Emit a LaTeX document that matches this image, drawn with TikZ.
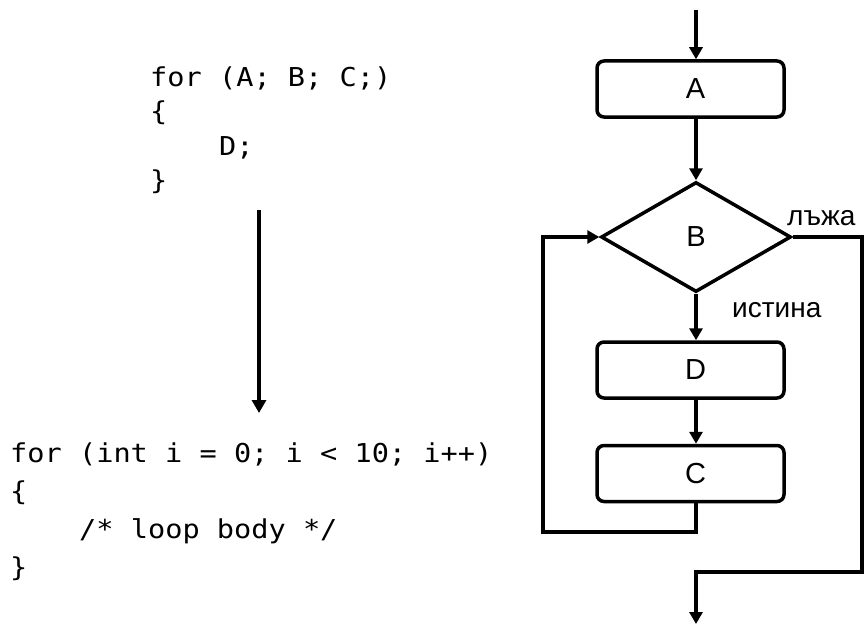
\documentclass[tikz,border=0pt]{standalone}
\usepackage{fontspec}
\setmainfont{Liberation Sans}
\newfontfamily\codefont[FakeStretch=1.1]{DejaVu Sans Mono}
\usetikzlibrary{shapes.geometric,arrows.meta}
\tikzset{
  flow/.style={line width=3.5pt, black},
  arr/.style={flow, -{Triangle[length=12pt,width=13pt]}},
  bigarr/.style={line width=4pt, -{Triangle[length=13pt,width=14pt]}},
  procbox/.style={flow, draw, rounded corners=7pt, minimum width=187pt, minimum height=56pt, inner sep=0pt,
    font=\fontsize{29}{32}\selectfont},
  decbox/.style={flow, draw, diamond, minimum width=190pt, minimum height=110pt, inner sep=0pt,
    font=\fontsize{29}{32}\selectfont},
  codeline/.style={anchor=base west, inner sep=0pt, font=\codefont\fontsize{26}{30}\selectfont},
  lbl/.style={anchor=base west, inner sep=0pt, font=\fontsize{28}{32}\selectfont}
}
\begin{document}
\begin{tikzpicture}[x=1pt, y=-1pt]
\useasboundingbox (0,0) rectangle (864,626);
% top code
\node[codeline] (t1) at (150,86) {for (A; B; C;)};
\node[codeline] (t2) at (150,120.5) {\{};
\node[codeline] (t3) at (219,155) {D;};
\node[codeline] (t4) at (150,189.5) {\}};
% middle arrow
\coordinate (m1) at (259,210);
\coordinate (m2) at (259,413);
\draw[bigarr] (m1) -- (m2);
% bottom code
\node[codeline] (b1) at (10,462) {for (int i = 0; i < 10; i++)};
\node[codeline] (b2) at (10,500) {\{};
\node[codeline] (b3) at (79,538) {/* loop body */};
\node[codeline] (b4) at (10,576) {\}};
% flowchart
\node[procbox] (A) at (690.5,89) {\hspace*{10pt}A};
\node[decbox] (B) at (696,237) {B};
\node[procbox] (D) at (690.5,370) {\hspace*{10pt}D};
\node[procbox] (C) at (690.5,473.5) {\hspace*{10pt}C};
\coordinate (in) at (696,10);
\coordinate (rt) at (862,572);
\coordinate (out) at (696,624);
\coordinate (lp) at (543,532);
\draw[arr] (in) -- (in |- A.north);
\draw[arr] (B.north |- A.south) -- (B.north);
\draw[arr] (B.south) -- (B.south |- D.north);
\draw[arr] (B.south |- D.south) -- (B.south |- C.north);
\draw[arr] (B.south |- C.south) |- (lp) |- (B.west);
\draw[arr] (B.east) -| (rt) -| (out);
\node[lbl] (f) at (787,225) {лъжа};
\node[lbl] (t) at (732,317) {истина};
\end{tikzpicture}
\end{document}
